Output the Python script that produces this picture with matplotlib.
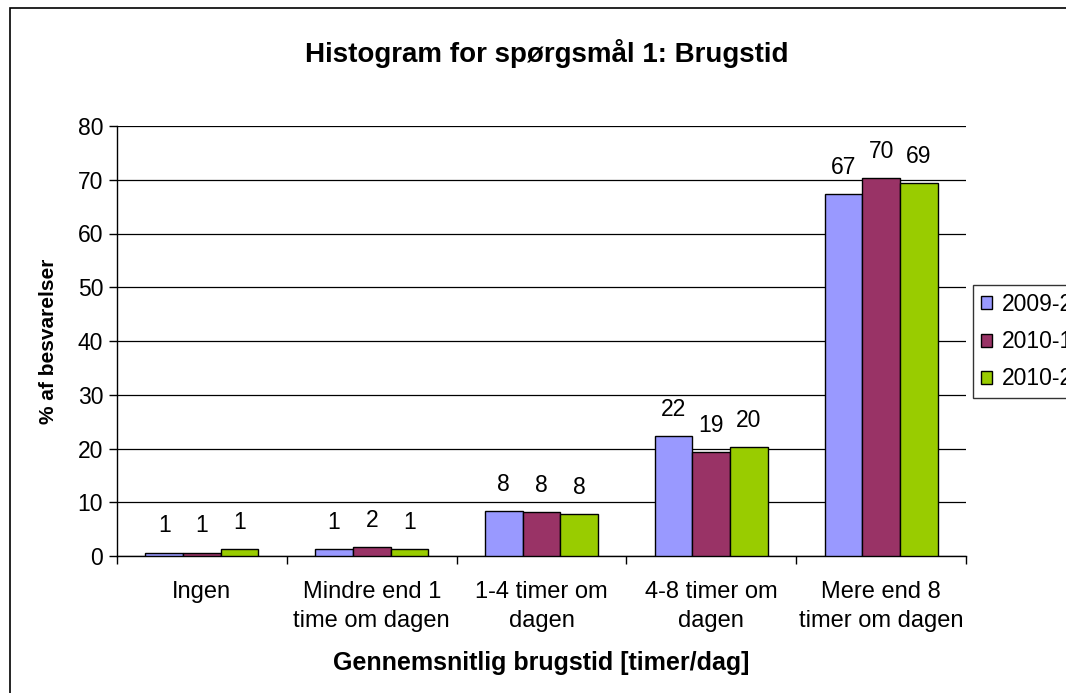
import numpy as np
import matplotlib.pyplot as plt
from matplotlib.patches import Rectangle

plt.rcParams['font.family'] = ['Liberation Sans', 'DejaVu Sans']

# data
categories = ["Ingen", "Mindre end 1\ntime om dagen", "1-4 timer om\ndagen",
              "4-8 timer om\ndagen", "Mere end 8\ntimer om dagen"]
series_names = ["2009-2", "2010-1", "2010-2"]
values_2009_2 = [0.6, 1.3, 8.4, 22.3, 67.3]
values_2010_1 = [0.6, 1.7, 8.1, 19.3, 70.3]
values_2010_2 = [1.3, 1.3, 7.8, 20.3, 69.4]
colors = ["#9999FF", "#993366", "#99CC00"]

fig = plt.figure(figsize=(10.66, 6.93), dpi=100)
ax = fig.add_axes([117 / 1066, 1 - 556 / 693, (966 - 117) / 1066, (556 - 126) / 693])

# outer chart border (cut off at right and bottom like the reference)
fig.patches.append(Rectangle((10 / 1066, -0.1), 1.2, 1.1 - 8 / 693, transform=fig.transFigure,
                             fill=False, edgecolor="black", linewidth=1.2, zorder=0))

x = np.arange(len(categories))
w = 0.222
for i, (vals, name) in enumerate(zip([values_2009_2, values_2010_1, values_2010_2], series_names)):
    bars = ax.bar(x + (i - 1) * w, vals, w, color=colors[i], edgecolor="black",
                  linewidth=1.0, label=name, zorder=3)
    ax.bar_label(bars, labels=[f"{v:.0f}" for v in vals], padding=11, fontsize=16.5)

ax.set_xlim(-0.5, len(categories) - 0.5)
ax.set_ylim(0, 80)
ax.set_yticks(range(0, 81, 10))
ax.set_xticks(x)
ax.set_xticklabels(categories, fontsize=17, linespacing=1.4)
ax.set_xticks(np.arange(-0.5, len(categories)), minor=True)
ax.tick_params(axis="x", which="major", length=0, pad=18)
ax.tick_params(axis="x", which="minor", length=6, width=1, direction="out")
ax.tick_params(axis="y", labelsize=16.5, length=6, width=1, direction="out", pad=4)

ax.grid(axis="y", color="black", linewidth=0.9, zorder=0)
for side in ["top", "right"]:
    ax.spines[side].set_visible(False)
ax.spines["left"].set_linewidth(1)
ax.spines["bottom"].set_linewidth(1)

ax.set_xlabel("Gennemsnitlig brugstid [timer/dag]", fontsize=18, fontweight="bold", labelpad=14)
ax.set_ylabel("% af besvarelser", fontsize=15, fontweight="bold", labelpad=14)
fig.suptitle("Histogram for spørgsmål 1: Brugstid", fontsize=20, fontweight="bold",
             x=547 / 1066, y=1 - 39 / 693)

leg = fig.legend(loc="upper left", bbox_to_anchor=(973 / 1066, 1 - 285 / 693), fontsize=16.5,
                 frameon=True, fancybox=False, edgecolor="black", handlelength=0.5,
                 handleheight=0.5, handletextpad=0.4, borderpad=0.35, borderaxespad=0,
                 labelspacing=0.62)
leg.get_frame().set_linewidth(1)

fig.savefig("out.png", dpi=100, facecolor="white")
